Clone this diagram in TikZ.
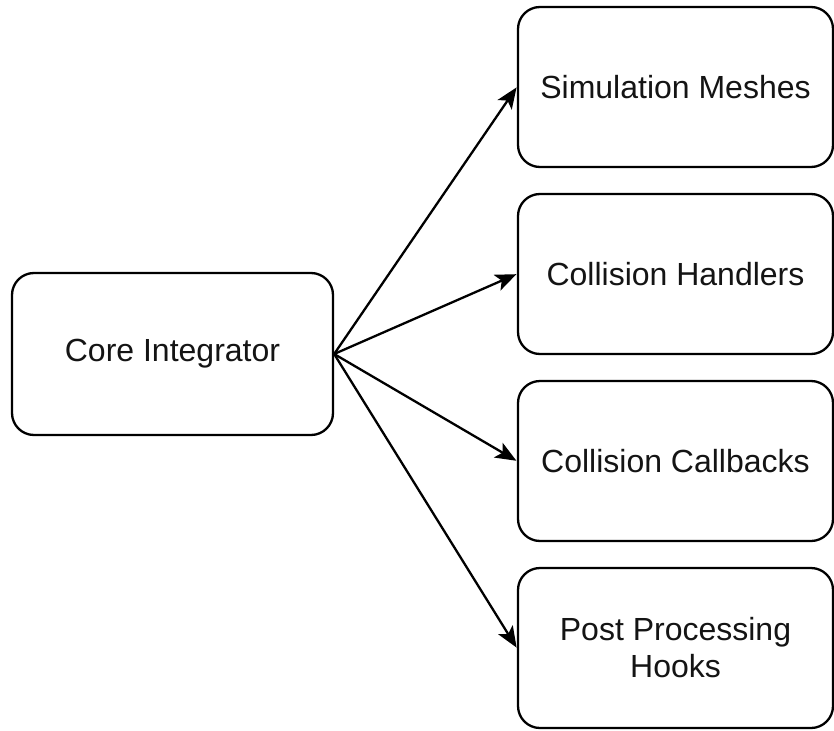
\documentclass[tikz,border=0pt]{standalone}
\usepackage{fontspec}
\setmainfont{Liberation Sans}
\usetikzlibrary{arrows.meta}
\definecolor{txt}{RGB}{20,20,20}
\tikzset{
  box/.style={draw=black, line width=2.3pt, rounded corners=22pt, fill=white,
    minimum width=#1, minimum height=160pt, inner sep=0pt, align=center,
    text=txt, font=\fontsize{32}{37}\selectfont},
  link/.style={draw=black, line width=2.3pt,
    -{Stealth[length=21pt, width=17pt, inset=5pt]}, shorten >=0.5pt}
}
\begin{document}
\begin{tikzpicture}[x=1pt, y=-1pt]
\useasboundingbox (0,0) rectangle (834,730);
\node[box=321pt, minimum height=162pt] (core) at (172.5,354) {Core Integrator};
\node[box=315pt] (sim) at (675.5,87) {Simulation Meshes};
\node[box=315pt] (ch) at (675.5,274) {Collision Handlers};
\node[box=315pt] (cc) at (675.5,461) {Collision Callbacks};
\node[box=315pt] (pp) at (675.5,648) {Post Processing\\Hooks};
\draw[link] (core.east) -- (sim.west);
\draw[link] (core.east) -- (ch.west);
\draw[link] (core.east) -- (cc.west);
\draw[link] (core.east) -- (pp.west);
\end{tikzpicture}
\end{document}
